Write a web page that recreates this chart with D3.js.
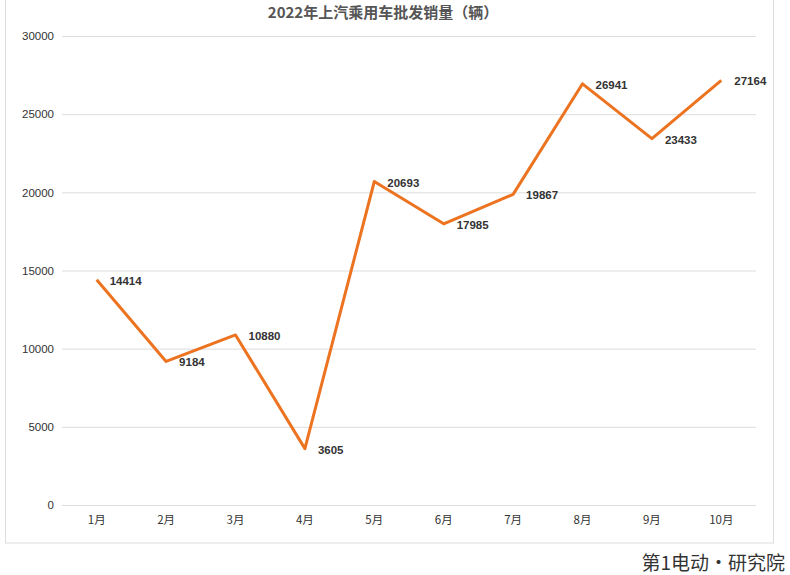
<!DOCTYPE html>
<html><head><meta charset="utf-8">
<script src="https://cdn.jsdelivr.net/npm/d3@7"></script>
<style>body{margin:0;background:#fff;font-family:"Liberation Sans","Noto Sans CJK SC",sans-serif}</style>
</head><body>
<svg id="c" width="790" height="575"></svg>
<script>
const categories=["1月","2月","3月","4月","5月","6月","7月","8月","9月","10月"];
const values=[14414,9184,10880,3605,20693,17985,19867,26941,23433,27164];
const yTicks=[0,5000,10000,15000,20000,25000,30000];
const svg=d3.select("#c");
svg.append("rect").attr("x",5.5).attr("y",-10).attr("width",768).attr("height",553).attr("fill","#fff").attr("stroke","#ddd");
const x=d3.scaleBand().domain(categories).range([62,756]);
const y=d3.scaleLinear().domain([0,30000]).range([505,36]);
svg.append("text").attr("x",383).attr("y",18).attr("text-anchor","middle").attr("font-size",15).attr("font-weight","bold").attr("fill","#555").attr("font-family","Noto Sans CJK SC").text("2022年上汽乘用车批发销量（辆）");
const ya=svg.append("g").attr("transform","translate(62,0)").call(d3.axisLeft(y).tickValues(yTicks).tickSize(-694).tickFormat(d3.format("d")));
ya.select(".domain").remove();
ya.selectAll("line").attr("stroke","#ddd");
ya.selectAll("text").attr("x",-8).attr("font-size",11.5).attr("fill","#333").attr("font-family","Liberation Sans");
const xa=svg.append("g").attr("transform","translate(0,505)").call(d3.axisBottom(x).tickSize(0).tickPadding(11));
xa.select(".domain").remove();
xa.selectAll("text").attr("font-size",11.5).attr("fill","#333").attr("font-family","Noto Sans CJK SC");
const cx=d=>x(d)+x.bandwidth()/2;
svg.append("path").datum(values).attr("fill","none").attr("stroke","#ec7320").attr("stroke-width",3).attr("stroke-linejoin","round")
 .attr("d",d3.line().x((d,i)=>cx(categories[i])).y(d=>y(d)));
svg.selectAll(".lbl").data(values).join("text").attr("x",(d,i)=>cx(categories[i])+13).attr("y",d=>y(d)+1).attr("dy","0.35em")
 .attr("font-size",11.5).attr("font-weight","bold").attr("fill","#333").text(d=>d);
svg.append("text").attr("x",785).attr("y",570).attr("text-anchor","end").attr("font-size",19).attr("fill","#333").attr("font-family","Noto Sans CJK SC").text("第1电动·研究院");
</script></body></html>
